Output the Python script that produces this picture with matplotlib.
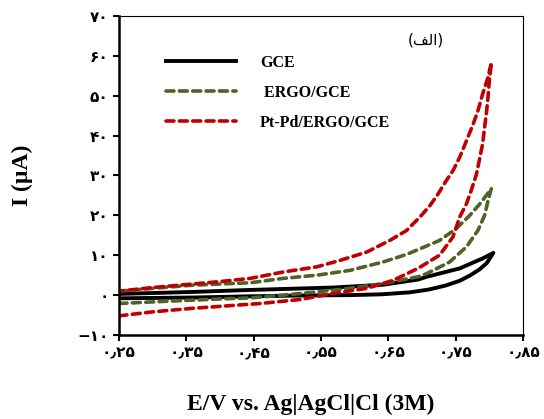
import matplotlib
matplotlib.use("Agg")
import matplotlib.pyplot as plt

# cyclic voltammograms, E in V, I in uA (forward branch then reverse branch)
gce_x = [0.25, 0.36, 0.445, 0.52, 0.593, 0.64, 0.682, 0.71, 0.735, 0.756, 0.771, 0.785, 0.796, 0.806,
         0.79, 0.756, 0.707, 0.694, 0.642, 0.568, 0.445, 0.36, 0.25]
gce_y = [-0.8, -0.6, -0.3, -0.1, 0.0, 0.2, 0.7, 1.4, 2.4, 3.6, 4.9, 6.4, 8.0, 10.6,
         9.2, 6.7, 4.6, 3.9, 2.6, 1.9, 1.3, 0.8, 0.3]

ergo_x = [0.25, 0.30, 0.36, 0.41, 0.445, 0.494, 0.544, 0.593, 0.642, 0.694, 0.707, 0.741,
          0.766, 0.783, 0.793, 0.798, 0.803,
          0.786, 0.771, 0.751, 0.726, 0.694, 0.677, 0.642, 0.593, 0.544, 0.494, 0.445,
          0.36, 0.30, 0.25]
ergo_y = [-2.1, -1.7, -1.25, -0.9, -0.7, 0.0, 0.8, 1.7, 2.9, 4.6, 5.4, 8.3,
          12.1, 16.2, 20.0, 23.7, 26.7,
          22.9, 20.0, 16.7, 13.7, 11.4, 10.2, 8.3, 6.2, 5.0, 4.2, 3.1,
          2.5, 1.7, 1.0]

ptpd_x = [0.25, 0.30, 0.36, 0.41, 0.46, 0.519, 0.568, 0.618, 0.657, 0.694, 0.726, 0.746,
          0.756, 0.766, 0.773, 0.781, 0.786, 0.790, 0.793, 0.796, 0.798, 0.800, 0.803,
          0.798, 0.790, 0.783, 0.776, 0.766, 0.756, 0.746, 0.736, 0.724, 0.712, 0.697,
          0.677, 0.652, 0.618, 0.578, 0.544, 0.494, 0.445, 0.40, 0.36, 0.30, 0.25]
ptpd_y = [-5.2, -4.2, -3.3, -2.7, -2.1, -1.1, 0.4, 1.7, 3.7, 6.7, 10.0, 14.6,
          19.6, 22.9, 26.2, 30.4, 34.6, 37.9, 42.1, 46.2, 49.6, 53.7, 58.3,
          54.6, 50.4, 46.2, 42.9, 38.7, 34.6, 31.2, 28.7, 25.4, 22.5, 19.6,
          16.2, 13.7, 10.8, 8.7, 7.1, 5.8, 4.2, 3.4, 2.8, 1.9, 1.0]

x_ticks = [0.25, 0.35, 0.45, 0.55, 0.65, 0.75, 0.85]
x_tick_labels = ["۰٫۲۵", "۰٫۳۵", "۰٫۴۵", "۰٫۵۵", "۰٫۶۵", "۰٫۷۵", "۰٫۸۵"]
y_ticks = [-10, 0, 10, 20, 30, 40, 50, 60, 70]
y_tick_labels = ["−۱۰", "۰", "۱۰", "۲۰", "۳۰", "۴۰", "۵۰", "۶۰", "۷۰"]

red = "#C00000"
green = "#4F6228"

fig = plt.figure(figsize=(5.44, 4.19), dpi=100)
ax = fig.add_axes([0.2188, 0.2005, 0.7426, 0.7613])

ax.plot(gce_x, gce_y, color="black", lw=2.8, solid_joinstyle="round", label="GCE")
ax.plot(ergo_x, ergo_y, color=green, lw=2.6, dashes=(2.2, 1.5), dash_capstyle="round",
        dash_joinstyle="round", label=" ERGO/GCE")
ax.plot(ptpd_x, ptpd_y, color=red, lw=2.6, dashes=(2.2, 1.5), dash_capstyle="round",
        dash_joinstyle="round", label="Pt-Pd/ERGO/GCE")

ax.set_xlim(0.25, 0.85)
ax.set_ylim(-10, 70)
ax.set_xticks(x_ticks)
ax.set_xticklabels(x_tick_labels, fontsize=11, fontweight="bold", family="DejaVu Sans")
ax.set_yticks(y_ticks)
ax.set_yticklabels(y_tick_labels, fontsize=11, fontweight="bold", family="DejaVu Sans")
ax.tick_params(direction="out", length=4.5, width=1.5, pad=3)

for side in ["left", "bottom"]:
    ax.spines[side].set_linewidth(1.8)
for side in ["top", "right"]:
    ax.spines[side].set_linewidth(0.8)

ax.set_xlabel("E/V vs. Ag|AgCl|Cl (3M)", fontsize=17, fontweight="bold", family="Liberation Serif")
ax.xaxis.set_label_coords(0.475, -0.185)
ax.set_ylabel("I (µA)", fontsize=17, fontweight="bold", family="Liberation Serif")
ax.yaxis.set_label_coords(-0.213, 0.5)

# panel label "(الف)" pre-shaped for left-to-right drawing
ax.text(0.76, 0.925, "(\uFED2\uFEDF\uFE8D)", transform=ax.transAxes, fontsize=11,
        family="DejaVu Sans", ha="center", va="center")

ax.legend(loc="upper left", bbox_to_anchor=(0.116, 0.878), frameon=False,
          prop={"family": "Liberation Serif", "weight": "bold", "size": 11.5},
          handlelength=4.38, handletextpad=1.5, labelspacing=0.87, borderpad=0,
          borderaxespad=0)

fig.savefig("out.png", dpi=100)
